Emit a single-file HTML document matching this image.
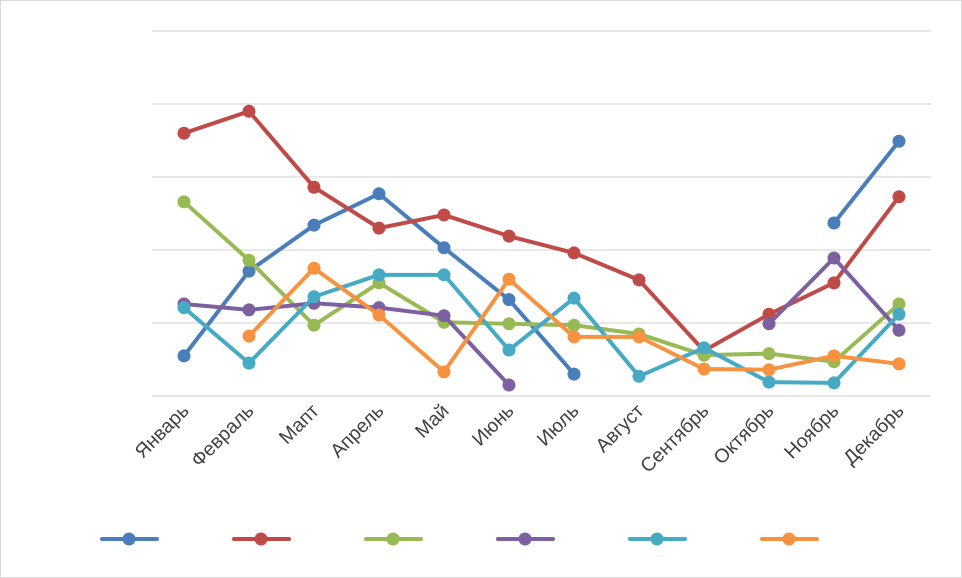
<!DOCTYPE html>
<html><head><meta charset="utf-8"><style>
html,body{margin:0;padding:0;background:#fff;}
svg{display:block;font-family:"Liberation Sans",sans-serif;}
</style></head><body>
<svg id="chart" width="962" height="578">
<rect x="0.5" y="0.5" width="961" height="577" fill="#fff" stroke="#d9d9d9"/>
<g id="grid"></g><g id="series"></g><g id="xlabels"></g><g id="legend"></g>
</svg>
<script>
const categories=["Январь","Февраль","Мапт","Апрель","Май","Июнь","Июль","Август","Сентябрь","Октябрь","Ноябрь","Декабрь"];
const gridTicks=[0,1,2,3,4,5];
const s1=[0.55,1.71,2.34,2.77,2.03,1.32,0.30,null,null,null,2.37,3.49];
const s2=[3.60,3.90,2.86,2.30,2.48,2.19,1.96,1.59,0.62,1.12,1.55,2.73];
const s3=[2.66,1.86,0.97,1.55,1.01,0.99,0.97,0.85,0.56,0.58,0.47,1.26];
const s4=[1.26,1.18,1.27,1.21,1.10,0.15,null,null,null,0.99,1.89,0.90];
const s5=[1.21,0.45,1.36,1.66,1.66,0.63,1.34,0.27,0.66,0.19,0.18,1.12];
const s6=[null,0.82,1.75,1.11,0.33,1.60,0.81,0.81,0.37,0.36,0.55,0.44];
const seriesList=[s1,s2,s3,s4,s5,s6];
const colors=["#4a7ebb","#be4b48","#98b954","#7d60a0","#46aac5","#f69240"];
const NS="http://www.w3.org/2000/svg";
const x=i=>184+i*65;
const y=v=>396-v*73;
function mk(t,a,p){const e=document.createElementNS(NS,t);for(const k in a)e.setAttribute(k,a[k]);p.appendChild(e);return e;}
const grid=document.getElementById('grid');
gridTicks.forEach(t=>{const l=mk('line',{x1:152,x2:931,y1:y(t),y2:y(t),stroke:'#d9d9d9','stroke-width':1.3},grid);

});
const sg=document.getElementById('series');
seriesList.forEach((s,si)=>{
 let seg=[];const segs=[];
 s.forEach((v,i)=>{if(v===null){if(seg.length)segs.push(seg);seg=[];}else seg.push([x(i),y(v)]);});
 if(seg.length)segs.push(seg);
 segs.forEach(sg2=>{const p=mk('polyline',{points:sg2.map(q=>q.join(',')).join(' '),fill:'none',stroke:colors[si],'stroke-width':4,'stroke-linejoin':'round','stroke-linecap':'round'},sg);
 
 });
 s.forEach((v,i)=>{if(v===null)return;const c=mk('circle',{cx:x(i),cy:y(v),r:6.5,fill:colors[si]},sg);
 
 });
});
const xl=document.getElementById('xlabels');
categories.forEach((c,i)=>{const ax=x(i)+6,ay=412;const t=mk('text',{x:ax,y:ay,'text-anchor':'end','font-size':19.5,fill:'#404040',transform:`rotate(-45 ${ax} ${ay})`},xl);t.textContent=c;

});
const lg=document.getElementById('legend');
colors.forEach((c,i)=>{const lx=102+i*132;const g=mk('g',{},lg);


mk('line',{x1:lx,x2:lx+55,y1:539,y2:539,stroke:c,'stroke-width':4,'stroke-linecap':'round'},g);
mk('circle',{cx:lx+27,cy:539,r:6.5,fill:c},g);});
</script>
</body></html>
